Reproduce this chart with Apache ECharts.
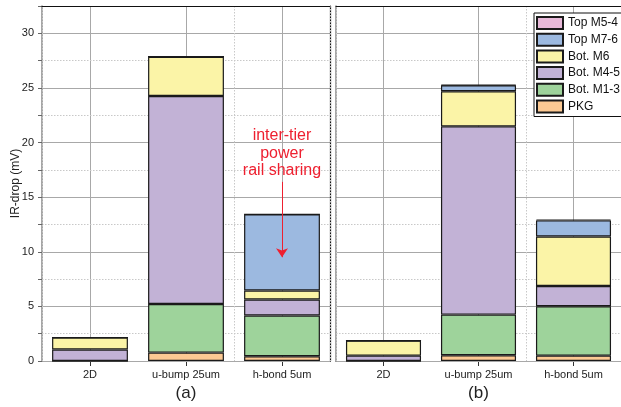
<!DOCTYPE html>
<html>
<head>
<meta charset="utf-8">
<script src="https://cdn.jsdelivr.net/npm/echarts@6/dist/echarts.min.js"></script>
<style>
  html, body { margin: 0; padding: 0; background: #fff; }
  #chart { width: 621px; height: 407px; }
</style>
</head>
<body>
<div id="chart"></div>
<script>
// Categories (stack configurations)
const categories = ['2D', 'u-bump 25um', 'h-bond 5um'];

// Metal layer groups, bottom of the stack first
const layers = ['PKG', 'Bot. M1-3', 'Bot. M4-5', 'Bot. M6', 'Top M7-6', 'Top M5-4'];

// Panel (a): IR-drop per layer (mV)
const pkgA   = [0.00, 0.77, 0.43];
const m13A   = [0.00, 4.45, 3.73];
const m45A   = [1.05, 19.04, 1.47];
const m6A    = [1.10, 3.60, 0.82];
const m76A   = [0.00, 0.00, 6.97];
const m54A   = [0.00, 0.00, 0.00];

// Panel (b): IR-drop per layer (mV)
const pkgB   = [0.00, 0.52, 0.49];
const m13B   = [0.00, 3.73, 4.52];
const m45B   = [0.49, 17.23, 1.86];
const m6B    = [1.38, 3.21, 4.53];
const m76B   = [0.00, 0.55, 1.47];
const m54B   = [0.00, 0.05, 0.08];

// Annotation for the h-bond bar in panel (a)
const noteText = 'inter-tier\npower\nrail sharing';
const noteCategory = 'h-bond 5um';
const noteAt = 19.0;
const arrowFrom = 16.4;
const arrowTo = 9.5;

// Value axis: labelled every 5 mV, dotted guide every 2.5 mV
const yTicks = { min: 0, max: 32.5, major: 5, minor: 2.5 };

const layerColors = {
  'PKG': '#FCC993',
  'Bot. M1-3': '#9ED39B',
  'Bot. M4-5': '#C2B2D6',
  'Bot. M6': '#FBF4A7',
  'Top M7-6': '#9CB9E0',
  'Top M5-4': '#E8B9D9'
};

const panelA = [pkgA, m13A, m45A, m6A, m76A, m54A];
const panelB = [pkgB, m13B, m45B, m6B, m76B, m54B];

const font = '"Liberation Sans", Arial, sans-serif';
const majorGrid = { show: true, lineStyle: { color: '#a8a8a8', width: 1, type: 'solid' } };
const minorGrid = { show: true, lineStyle: { color: '#c8c8c8', width: 1, type: [1.5, 1.5] } };
// dotted separators between categories; the one on the right edge stays hidden under the frame
const separatorGrid = {
  show: true,
  lineStyle: { color: ['#c8c8c8', '#c8c8c8', '#c8c8c8', 'rgba(0,0,0,0)'], width: 1, type: [1.5, 1.5] }
};

function xAxes(gridIndex, name) {
  return [
    {
      type: 'category', gridIndex, data: categories, position: 'bottom',
      name, nameLocation: 'middle', nameGap: 24,
      nameTextStyle: { fontFamily: font, fontSize: 17, color: '#222' },
      axisLine: { show: true, onZero: false, lineStyle: { color: '#222', width: 1 } },
      axisTick: { show: true, alignWithLabel: true, length: 5, lineStyle: { color: '#333' } },
      axisLabel: { fontFamily: font, fontSize: 11, color: '#222', margin: 8 },
      splitLine: Object.assign({ alignWithLabel: true }, majorGrid),
      z: 3
    },
    // top edge: frame line plus dotted separators between categories
    {
      type: 'category', gridIndex, data: categories, position: 'top',
      axisLine: { show: true, onZero: false, lineStyle: { color: '#111', width: 1 } },
      axisTick: { show: false }, axisLabel: { show: false },
      splitLine: separatorGrid,
      z: 6
    }
  ];
}

function yAxes(gridIndex, showLabels, frameRight) {
  return [
    {
      type: 'value', gridIndex, min: yTicks.min, max: yTicks.max, interval: yTicks.minor,
      position: 'left',
      name: showLabels ? 'IR-drop (mV)' : '', nameLocation: 'middle', nameGap: 20,
      nameMoveOverlap: false,
      nameTextStyle: { fontFamily: font, fontSize: 12, color: '#222' },
      axisLine: { show: true, onZero: false, lineStyle: { color: '#888', width: 1.5 } },
      axisTick: { show: showLabels, length: 4, lineStyle: { color: '#666' } },
      axisLabel: {
        show: showLabels, fontFamily: font, fontSize: 11, color: '#222', margin: 8,
        formatter: v => (v % yTicks.major === 0 ? String(v) : '')
      },
      splitLine: minorGrid,
      z: 4
    },
    // right edge: solid guides every 5 mV and the frame line
    {
      type: 'value', gridIndex, min: yTicks.min, max: yTicks.max, interval: yTicks.major,
      position: 'right',
      axisLine: { show: frameRight, onZero: false, lineStyle: { color: '#111', width: 1.2 } },
      axisTick: { show: false }, axisLabel: { show: false },
      splitLine: majorGrid,
      z: 4
    }
  ];
}

function panelSeries(values, xIndex, yIndex, stack) {
  return layers.map((name, i) => ({
    name, type: 'bar', stack,
    xAxisIndex: xIndex, yAxisIndex: yIndex,
    data: values[i],
    barWidth: '79%',
    itemStyle: { color: layerColors[name], borderColor: '#1a1a1a', borderWidth: 1.2 },
    emphasis: { disabled: true },
    z: 10
  }));
}

const seriesA = panelSeries(panelA, 0, 0, 'a');
const seriesB = panelSeries(panelB, 2, 2, 'b');

// Red call-out over the h-bond bar of panel (a)
seriesA[4].markPoint = {
  symbol: 'circle', symbolSize: 1,
  itemStyle: { color: 'rgba(0,0,0,0)' },
  label: {
    show: true, position: 'inside', formatter: noteText,
    fontFamily: font, fontSize: 16, lineHeight: 17.5, color: '#EE2030', align: 'center'
  },
  data: [{ coord: [noteCategory, noteAt] }],
  emphasis: { disabled: true },
  z: 12
};
seriesA[4].markLine = {
  silent: true,
  symbol: ['none', 'arrow'], symbolSize: 9,
  itemStyle: { color: '#EE2030' },
  lineStyle: { color: '#EE2030', width: 1, type: 'solid' },
  label: { show: false },
  data: [[{ coord: [noteCategory, arrowFrom] }, { coord: [noteCategory, arrowTo] }]],
  emphasis: { disabled: true },
  z: 12
};

const option = {
  animation: false,
  backgroundColor: '#fff',
  grid: [
    { left: 42, top: 6, width: 288, height: 355 },
    { left: 336, top: 6, width: 288, height: 355 }
  ],
  legend: {
    data: layers.slice().reverse(),
    orient: 'vertical',
    left: 534, top: 13,
    padding: [3, 2, 3, 2],
    itemWidth: 26, itemHeight: 12, itemGap: 2.7,
    backgroundColor: '#fff', borderColor: '#111', borderWidth: 1,
    icon: 'rect',
    textStyle: { fontFamily: font, fontSize: 12, color: '#111', lineHeight: 12 },
    selectedMode: false,
    z: 20
  },
  xAxis: [...xAxes(0, '(a)'), ...xAxes(1, '(b)')],
  yAxis: [...yAxes(0, true, true), ...yAxes(1, false, false)],
  series: [...seriesA, ...seriesB]
};

const chart = echarts.init(document.getElementById('chart'), null, { renderer: 'canvas' });
chart.setOption(option);
</script>
</body>
</html>
